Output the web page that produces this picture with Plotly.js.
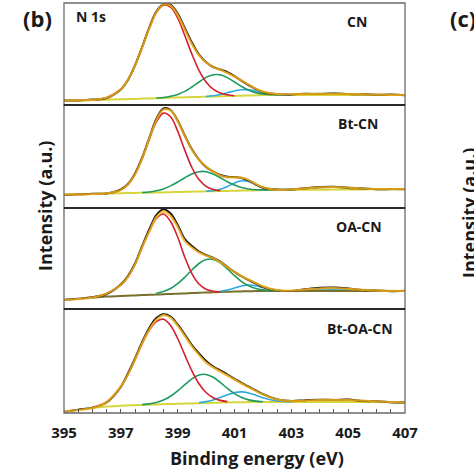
<!DOCTYPE html>
<html>
<head>
<meta charset="utf-8">
<script src="https://cdn.plot.ly/plotly-3.0.1.min.js"></script>
<style>html,body{margin:0;padding:0;background:#fff;}#chart{width:474px;height:474px;}</style>
</head>
<body>
<div id="chart"></div>
<script>
// Binding energy grid (eV)
const energy = [395,395.5,396,396.5,397,397.25,397.5,397.75,398,398.25,398.5,398.75,399,399.25,399.5,399.75,400,400.25,400.5,400.75,401,401.25,401.5,401.75,402,402.5,403,403.5,404,404.5,405,405.5,406,406.5,407];
const xTicks = [395,397,399,401,403,405,407];
const sampleNames = ["CN","Bt-CN","OA-CN","Bt-OA-CN"];
const N = null;

// CN
const cnRaw   = [4.5,4.6,5.4,7.0,15.5,25.0,39.8,58.0,77.5,93.5,100.8,100.0,91.5,77.0,62.5,50.5,42.8,38.0,35.5,32.8,28.8,24.2,20.0,16.0,13.0,10.8,10.6,11.2,11.0,11.4,10.9,10.8,10.2,10.4,9.8];
const cnFit   = [4.3,4.7,5.2,7.2,15.8,25.3,39.4,57.5,76.6,92.7,100.5,99.2,90.1,75.4,61.0,49.6,42.4,38.3,35.2,32.1,28.5,24.5,20.4,16.4,13.4,10.9,10.8,11.0,11.2,11.2,11.0,10.6,10.3,10.2,10.0];
const cnBg    = [4.0,4.4,4.9,5.3,5.7,5.9,6.1,6.4,6.6,6.8,7.0,7.3,7.5,7.7,7.9,8.1,8.3,8.5,8.7,8.9,9.1,9.3,9.5,9.7,9.9,10.0,10.0,10.0,10.0,10.0,10.0,10.0,10.0,10.0,10.0];
const cnPyr   = [N,N,4.9,7.2,15.8,25.3,39.4,57.5,76.6,92.5,99.8,97.8,87.0,69.5,50.9,34.7,23.1,15.8,11.9,10.2,9.3,N,N,N,N,N,N,N,N,N,N,N,N,N,N];
const cnN3    = [N,N,N,N,N,N,N,N,N,7.0,7.55,8.7,10.6,13.6,18.0,23.0,27.6,30.3,30.2,27.4,23.0,18.5,14.8,12.3,11.1,10.15,N,N,N,N,N,N,N,N,N];
const cnNH    = [N,N,N,N,N,N,N,N,N,N,N,N,N,N,N,N,8.5,9.2,10.45,12.3,14.1,15.3,15.1,13.8,12.2,10.4,10.05,N,N,N,N,N,N,N,N];
const cnPi    = [N,N,N,N,N,N,N,N,N,N,N,N,N,N,N,N,N,N,N,N,N,N,N,N,N,10.1,10.5,10.9,11.2,11.2,11.0,10.6,10.2,N,N];

// Bt-CN
const btRaw   = [13.0,13.8,14.2,14.5,18.5,24.0,34.5,50.5,70.0,89.0,99.5,98.0,87.5,72.5,58.8,48.5,41.0,36.5,33.0,31.2,31.0,30.0,27.5,23.5,20.2,18.5,18.4,19.8,20.9,21.3,20.1,19.6,18.7,19.0,18.8];
const btFit   = [13.3,13.6,14.0,14.7,18.1,23.6,33.7,49.7,69.3,87.8,98.4,97.5,86.9,72.0,58.3,48.2,41.3,36.2,32.5,30.7,30.7,30.3,28.0,24.0,20.7,18.2,18.7,19.6,20.6,21.0,20.4,19.5,18.9,18.8,19.0];
const btBg    = [13.3,13.6,14.0,14.4,14.8,15.0,15.1,15.2,15.3,15.5,15.6,15.8,16.0,16.2,16.3,16.5,16.7,16.8,17.0,17.1,17.3,17.4,17.5,17.7,17.9,18.0,18.1,18.2,18.3,18.4,18.5,18.6,18.7,18.8,19.0];
const btPyr   = [N,N,N,14.5,18.1,23.6,33.7,49.4,68.6,86.1,94.9,91.2,76.9,57.9,40.5,28.4,21.7,18.6,17.3,N,N,N,N,N,N,N,N,N,N,N,N,N,N,N,N];
const btN3    = [N,N,N,N,N,N,N,15.5,16.0,17.2,19.1,22.1,26.0,30.3,34.1,36.3,36.3,33.9,30.3,26.3,22.9,20.4,19.0,18.3,18.1,18.0,N,N,N,N,N,N,N,N,N];
const btNH    = [N,N,N,N,N,N,N,N,N,N,N,N,N,N,N,N,16.8,17.3,18.7,21.5,25.1,27.3,26.5,23.4,20.4,18.2,18.1,N,N,N,N,N,N,N,N];
const btPi    = [N,N,N,N,N,N,N,N,N,N,N,N,N,N,N,N,N,N,N,N,N,N,N,N,N,18.0,18.7,19.6,20.6,21.0,20.4,19.5,18.9,18.8,N];

// OA-CN
const oaRaw   = [9.2,10.3,11.8,15.0,24.5,32.8,45.5,63.0,79.5,94.0,99.8,95.5,84.0,70.0,63.0,57.5,54.0,51.0,47.5,42.0,37.0,32.5,29.0,25.5,22.0,18.6,18.0,19.8,21.2,21.5,20.5,19.0,18.5,17.8,18.2];
const oaFit   = [9.0,10.0,11.5,15.5,24.0,32.0,44.6,61.8,77.5,91.7,97.7,93.0,82.0,67.9,61.5,56.5,53.5,50.7,47.0,41.7,36.8,32.8,29.3,25.9,22.6,18.8,18.3,19.5,20.5,21.0,20.2,19.2,18.4,18.1,18.0];
const oaBg    = [N,N,11.3,12.5,13.0,13.3,13.6,13.9,14.2,14.5,14.8,15.0,15.3,15.6,15.9,16.2,16.5,16.7,17.0,17.2,17.4,17.6,17.8,17.9,18.0,18.0,18.0,18.0,18.0,18.0,18.0,18.0,18.0,18.0,18.0];
const oaPyr   = [N,N,11.5,15.5,24.0,32.0,44.6,61.8,77.5,90.5,95.0,87.5,72.0,51.8,35.4,25.0,19.8,17.8,17.3,N,N,N,N,N,N,N,N,N,N,N,N,N,N,N,N];
const oaN3    = [N,N,N,N,N,N,N,N,N,15.7,17.5,20.5,25.3,31.7,39.0,45.5,49.4,49.6,46.1,40.0,33.3,27.4,23.1,20.5,19.1,18.2,N,N,N,N,N,N,N,N,N];
const oaNH    = [N,N,N,N,N,N,N,N,N,N,N,N,N,N,N,N,N,N,17.6,18.9,20.9,23.0,24.0,23.3,21.5,18.6,18.05,N,N,N,N,N,N,N,N];
const oaPi    = [N,N,N,N,N,N,N,N,N,N,N,N,N,N,N,N,N,N,N,N,N,N,N,N,N,17.9,18.1,18.6,19.4,19.8,19.3,18.6,18.1,17.9,N];

// Bt-OA-CN
const boRaw   = [1.2,3.3,5.4,10.5,26.0,39.5,54.5,71.0,85.0,95.0,98.8,96.5,88.5,78.5,68.0,59.5,52.0,46.5,42.5,38.5,34.2,30.0,26.3,22.5,18.8,13.6,12.0,12.8,13.3,13.0,13.4,12.0,11.8,10.8,10.6];
const boFit   = [1.5,3.0,5.0,11.0,26.5,38.5,53.5,69.7,83.4,93.3,97.9,95.3,87.3,77.0,66.7,58.1,50.4,45.5,41.5,37.5,33.5,29.5,25.8,22.0,18.5,13.5,11.8,12.5,13.0,13.2,13.0,12.4,11.6,11.0,10.5];
const boBg    = [N,N,5.0,6.5,7.2,7.5,7.8,8.1,8.3,8.6,8.8,9.0,9.2,9.4,9.6,9.8,10.0,10.2,10.4,10.5,10.7,10.8,10.9,11.0,11.0,11.0,11.0,11.0,11.0,11.0,11.0,11.0,11.0,10.8,10.5];
const boPyr   = [N,N,5.5,11.0,26.5,38.5,53.5,69.4,82.6,91.4,93.8,87.6,74.5,58.1,42.2,29.3,20.5,15.3,12.6,11.4,N,N,N,N,N,N,N,N,N,N,N,N,N,N,N];
const boN3    = [N,N,N,N,N,N,N,8.4,9.1,10.5,12.9,16.7,22.0,28.3,34.1,38.0,38.5,35.7,30.5,24.5,19.3,15.5,13.1,11.9,11.3,N,N,N,N,N,N,N,N,N,N];
const boNH    = [N,N,N,N,N,N,N,N,N,N,N,N,N,N,N,10.4,11.4,13.1,15.6,18.3,20.4,21.1,20.0,17.8,15.2,12.0,11.1,N,N,N,N,N,N,N,N];
const boPi    = [N,N,N,N,N,N,N,N,N,N,N,N,N,N,N,N,N,N,N,N,N,N,N,N,N,11.0,11.2,11.8,12.3,12.5,12.3,11.8,11.3,11.0,N];

const panels = [
  {name: sampleNames[0], raw: cnRaw, fit: cnFit, bg: cnBg, pyr: cnPyr, n3: cnN3, nh: cnNH, pi: cnPi, ax: 'y4', bgColor: '#d6d63a'},
  {name: sampleNames[1], raw: btRaw, fit: btFit, bg: btBg, pyr: btPyr, n3: btN3, nh: btNH, pi: btPi, ax: 'y3', bgColor: '#d6d63a'},
  {name: sampleNames[2], raw: oaRaw, fit: oaFit, bg: oaBg, pyr: oaPyr, n3: oaN3, nh: oaNH, pi: oaPi, ax: 'y2', bgColor: '#77702e'},
  {name: sampleNames[3], raw: boRaw, fit: boFit, bg: boBg, pyr: boPyr, n3: boN3, nh: boNH, pi: boPi, ax: 'y',  bgColor: '#d6d63a'}
];

const traces = [];
function line(y, color, width, ax) {
  return {x: energy, y: y, type: 'scatter', mode: 'lines', yaxis: ax, xaxis: 'x',
    line: {color: color, width: width, shape: 'spline', smoothing: 1}, hoverinfo: 'skip', showlegend: false};
}
panels.forEach(p => {
  traces.push(line(p.pi, '#35aee6', 2, p.ax));
  traces.push(line(p.bg, p.bgColor, 2, p.ax));
  traces.push(line(p.nh, '#2ea9e0', 1.6, p.ax));
  traces.push(line(p.n3, '#1f9a5e', 1.6, p.ax));
  traces.push(line(p.pyr, '#d3202f', 1.6, p.ax));
  traces.push(line(p.raw, '#111111', 2, p.ax));
  traces.push(line(p.fit, 'rgba(244,176,28,0.85)', 2.2, p.ax));
});

// panel layout (paper fractions)
const doms = {y4: [0.7512, 1], y3: [0.5, 0.7512], y2: [0.2537, 0.5], y: [0, 0.2537]};
const ranges = {y4: [0, 102], y3: [0, 103], y2: [0, 101], y: [0, 104]};

const yax = k => ({domain: doms[k], range: ranges[k], visible: false, showgrid: false, zeroline: false, anchor: 'x', fixedrange: true});

const shapes = [];
Object.keys(doms).forEach(k => {
  shapes.push({type: 'rect', xref: 'paper', yref: 'paper', x0: 0, x1: 1, y0: doms[k][0], y1: doms[k][1],
    line: {color: '#6a6a6a', width: 1.3}, layer: 'above'});
});
[0.2537, 0.5, 0.7512].forEach(v => {
  shapes.push({type: 'line', xref: 'paper', yref: 'paper', x0: 0, x1: 1, y0: v, y1: v,
    line: {color: '#2a2a2a', width: 2}, layer: 'above'});
});

const F = 'Open Sans, Noto Sans, Arial, sans-serif';
const ann = (text, x, y, size, xanchor, extra) => Object.assign({text: '<b>' + text + '</b>', x: x, y: y, xref: 'paper', yref: 'paper',
  showarrow: false, xanchor: xanchor || 'center', yanchor: 'middle', font: {family: F, size: size, color: '#1a1a1a'}}, extra || {});

const annotations = [
  ann('(b)', -0.0777, 0.9634, 22),
  ann('(c)', 1.126, 0.9634, 22, 'left'),
  ann('N 1s', 0.0293, 0.968, 14, 'left'),
  ann(sampleNames[0], 0.859, 0.9537, 14),
  ann(sampleNames[1], 0.8636, 0.7073, 14),
  ann(sampleNames[2], 0.8642, 0.4544, 14),
  ann(sampleNames[3], 0.8671, 0.2073, 14),
  ann('Binding energy (eV)', 0.566, -0.1098, 18),
  ann('Intensity (a.u.)', -0.0557, 0.505, 18, 'center', {textangle: -90}),
  ann('Intensity (a.u.)', 1.1877, 0.4878, 18, 'center', {textangle: -90})
];

const layout = {
  width: 474, height: 474,
  margin: {l: 64, r: 69, t: 3, b: 61},
  paper_bgcolor: '#ffffff', plot_bgcolor: '#ffffff',
  showlegend: false,
  xaxis: {range: [395, 407], anchor: 'y', tickvals: xTicks, ticktext: xTicks.map(String),
    ticks: 'inside', ticklen: 4, tickwidth: 1, tickcolor: '#555',
    minor: {tick0: 395, dtick: 0.5, ticks: 'inside', ticklen: 4, tickcolor: '#555', showgrid: false},
    showline: false, showgrid: false, zeroline: false, ticklabelstandoff: 9,
    tickfont: {family: F, size: 15, color: '#1a1a1a', weight: 'bold'}, fixedrange: true},
  yaxis: yax('y'), yaxis2: yax('y2'), yaxis3: yax('y3'), yaxis4: yax('y4'),
  shapes: shapes,
  annotations: annotations
};

Plotly.newPlot('chart', traces, layout, {staticPlot: true, displayModeBar: false});
</script>
</body>
</html>
